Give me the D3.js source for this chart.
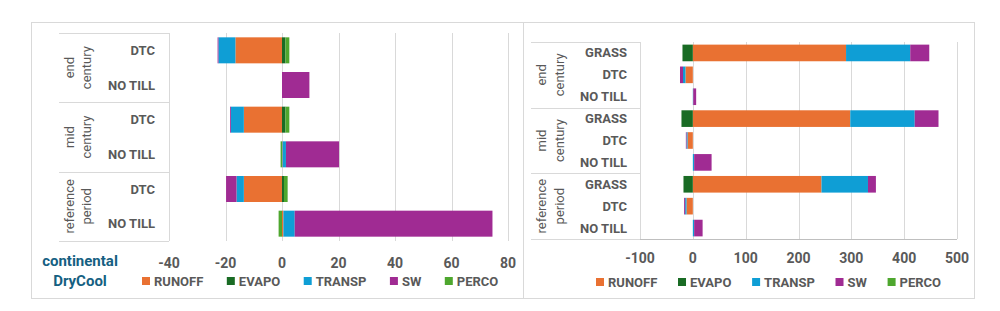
<!DOCTYPE html>
<html><head><meta charset="utf-8">
<script src="https://cdn.jsdelivr.net/npm/d3@7"></script>
<style>
html,body{margin:0;padding:0;background:#fff;}
svg{display:block;}
text{font-family:Roboto,"Open Sans",sans-serif;}
</style></head>
<body>
<svg id="chart" width="1000" height="311"></svg>
<script>
// ---------- data ----------
const seriesNames = ["RUNOFF", "EVAPO", "TRANSP", "SW", "PERCO"];
const seriesColors = ["#E97132", "#196B24", "#0F9ED5", "#A02B93", "#4EA72E"];

const periods = [["end", "century"], ["mid", "century"], ["reference", "period"]];

// left panel: continental DryCool
const leftTreatments = ["DTC", "NO TILL"];
const leftRUNOFF = [-16.5, 0, -13.5, 0.2, -13.5, 0.5];
const leftEVAPO  = [1.2, 0, 1.2, 0, 0.7, 0];
const leftTRANSP = [-6.0, 0, -4.6, 1.2, -2.6, 4.0];
const leftSW     = [-0.3, 9.7, -0.3, 18.8, -3.7, 70.0];
const leftPERCO  = [1.4, 0, 1.4, -0.5, 1.3, -1.2];
const leftTicks  = [-40, -20, 0, 20, 40, 60, 80];

// right panel
const rightTreatments = ["GRASS", "DTC", "NO TILL"];
const rightRUNOFF = [290, -14, 0, 298, -10, 0, 243.5, -12, 0];
const rightEVAPO  = [-19.6, 0, 0, -21.5, 0, 0, -17.7, 0, 0];
const rightTRANSP = [121.5, -4.6, 0.8, 122, -2.0, 2.5, 88, -2.5, 2.5];
const rightSW     = [36, -5.7, 5.5, 45, -1.2, 33, 15, -2.0, 16];
const rightPERCO  = [0, 0, 0, 0, 0, 0, 0, 0, 0];
const rightTicks  = [-100, 0, 100, 200, 300, 400, 500];

const titleLines = ["continental", "DryCool"];

// ---------- drawing ----------
const svg = d3.select("#chart");
const grey = "#595959", gridC = "#d9d9d9";

function drawPanel(cfg) {
  const g = svg.append("g");
  // panel border
  g.append("rect").attr("x", cfg.box[0] + 0.5).attr("y", cfg.box[1] + 0.5)
    .attr("width", cfg.box[2] - cfg.box[0]).attr("height", cfg.box[3] - cfg.box[1])
    .attr("fill", "none").attr("stroke", "#d9d9d9").attr("stroke-width", 1);

  const rows = [];
  periods.forEach((p, pi) => cfg.treatments.forEach((t, ti) => rows.push({key: pi + "|" + t, period: pi, treat: t})));
  const table = rows.map((r, i) => {
    const o = {key: r.key};
    seriesNames.forEach((s, si) => o[s] = cfg.values[si][i]);
    return o;
  });

  const x = d3.scaleLinear().domain(cfg.domain).range(cfg.xRange);
  const y = d3.scaleBand().domain(rows.map(r => r.key)).range(cfg.yRange)
    .paddingInner(cfg.pad).paddingOuter(cfg.pad / 2);

  // gridlines
  g.append("g").selectAll("line").data(cfg.ticks).join("line")
    .attr("x1", d => Math.round(x(d)) + 0.5).attr("x2", d => Math.round(x(d)) + 0.5)
    .attr("y1", cfg.yRange[0]).attr("y2", cfg.yRange[1])
    .attr("stroke", gridC).attr("stroke-width", 1);

  // category separators
  const step = y.step();
  const sepYs = d3.range(periods.length + 1).map(i => cfg.yRange[0] + i * step * cfg.treatments.length);
  g.append("g").selectAll("line").data(sepYs).join("line")
    .attr("x1", cfg.catLeft).attr("x2", x(cfg.domain[0]))
    .attr("y1", d => Math.round(d) + 0.5).attr("y2", d => Math.round(d) + 0.5)
    .attr("stroke", gridC);
  g.append("line").attr("x1", Math.round(x(cfg.domain[0])) + 0.5).attr("x2", Math.round(x(cfg.domain[0])) + 0.5)
    .attr("y1", cfg.yRange[0]).attr("y2", cfg.yRange[1]).attr("stroke", gridC);

  if (cfg.axisLine) {
    g.append("line").attr("x1", x(cfg.domain[0])).attr("x2", x(cfg.domain[1]))
      .attr("y1", Math.round(cfg.yRange[1]) + 0.5).attr("y2", Math.round(cfg.yRange[1]) + 0.5)
      .attr("stroke", "#bfbfbf").attr("stroke-width", 1.2);
  }

  // stacked bars
  const stack = d3.stack().keys(seriesNames).offset(d3.stackOffsetDiverging);
  const layers = stack(table);
  g.append("g").selectAll("g").data(layers).join("g")
    .attr("fill", (d, i) => seriesColors[i])
    .selectAll("rect").data(d => d).join("rect")
    .attr("x", d => x(Math.min(d[0], d[1])))
    .attr("width", d => Math.abs(x(d[1]) - x(d[0])))
    .attr("y", d => y(d.data.key))
    .attr("height", y.bandwidth());

  // treatment labels
  g.append("g").selectAll("text").data(rows).join("text")
    .attr("x", cfg.treatRight).attr("y", r => y(r.key) + y.bandwidth() / 2)
    .attr("text-anchor", "end").attr("dominant-baseline", "central")
    .attr("font-size", cfg.fs).attr("font-weight", 700).attr("fill", grey)
    .text(r => r.treat);

  // period labels (rotated)
  periods.forEach((p, pi) => {
    const cy = (sepYs[pi] + sepYs[pi + 1]) / 2;
    p.forEach((line, li) => {
      g.append("text")
        .attr("transform", `translate(${cfg.periodX[li]},${cy}) rotate(-90)`)
        .attr("text-anchor", "middle").attr("dominant-baseline", "central")
        .attr("font-size", cfg.fs).attr("fill", grey).text(line);
    });
  });

  // tick labels
  g.append("g").selectAll("text").data(cfg.ticks).join("text")
    .attr("x", d => x(d)).attr("y", cfg.tickY)
    .attr("text-anchor", "middle").attr("dominant-baseline", "central")
    .attr("font-size", cfg.tickFs).attr("font-weight", 700).attr("fill", grey)
    .text(d => d);

  // legend
  const leg = g.append("g");
  let lx = cfg.legX;
  seriesNames.forEach((s, i) => {
    leg.append("rect").attr("x", lx).attr("y", cfg.legY - 4).attr("width", 8).attr("height", 8)
      .attr("fill", seriesColors[i]);
    const t = leg.append("text").attr("x", lx + 12).attr("y", cfg.legY)
      .attr("dominant-baseline", "central").attr("font-size", cfg.legFs)
      .attr("font-weight", 700).attr("fill", grey).text(s);
    lx += 12 + t.node().getComputedTextLength() + cfg.legGap;
  });
}

drawPanel({
  box: [31, 22, 523, 298],
  treatments: leftTreatments,
  values: [leftRUNOFF, leftEVAPO, leftTRANSP, leftSW, leftPERCO],
  domain: [-40, 80], xRange: [169, 508], yRange: [33, 241], pad: 0.25,
  ticks: leftTicks, axisLine: false,
  catLeft: 59, treatRight: 155, periodX: [69, 86], fs: 13,
  tickY: 263, tickFs: 14, legX: 142, legY: 281, legFs: 13, legGap: 23.5
});

drawPanel({
  box: [523, 22, 974, 298],
  treatments: rightTreatments,
  values: [rightRUNOFF, rightEVAPO, rightTRANSP, rightSW, rightPERCO],
  domain: [-100, 500], xRange: [640, 957], yRange: [42, 239], pad: 0.24,
  ticks: rightTicks, axisLine: true,
  catLeft: 531, treatRight: 627, periodX: [541, 559], fs: 13,
  tickY: 258, tickFs: 14, legX: 596, legY: 282, legFs: 13, legGap: 20.7
});

// title in left panel
svg.append("g").selectAll("text").data(titleLines).join("text")
  .attr("x", 80).attr("y", (d, i) => 261 + i * 20)
  .attr("text-anchor", "middle").attr("dominant-baseline", "central")
  .attr("font-size", 15).attr("font-weight", 700).attr("fill", "#156082")
  .text(d => d);
</script>
</body></html>
